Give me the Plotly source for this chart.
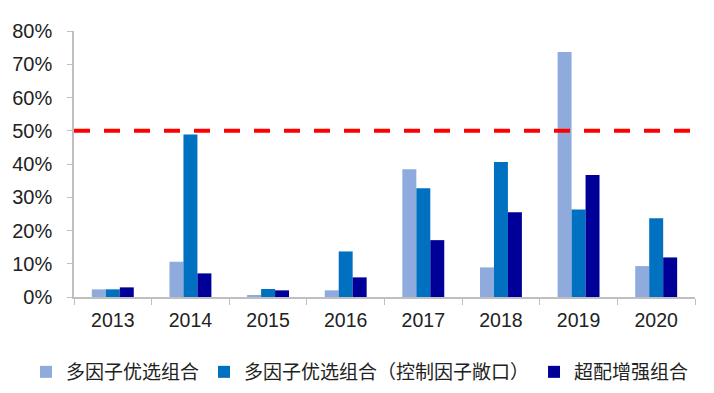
import plotly.graph_objects as go

years = ["2013", "2014", "2015", "2016", "2017", "2018", "2019", "2020"]
s1_name = "多因子优选组合"
s2_name = "多因子优选组合（控制因子敞口）"
s3_name = "超配增强组合"
s1 = [0.023, 0.106, 0.006, 0.020, 0.384, 0.089, 0.737, 0.093]
s2 = [0.023, 0.489, 0.024, 0.137, 0.327, 0.406, 0.263, 0.237]
s3 = [0.029, 0.071, 0.020, 0.059, 0.171, 0.255, 0.367, 0.119]
threshold = 0.5
y_ticks = [0, 0.1, 0.2, 0.3, 0.4, 0.5, 0.6, 0.7, 0.8]

W, H = 706, 385  # page body has an 8px margin
L, R, T, B = 66, 19, 23, 96
PW, PH = W - L - R, H - T - B

fig = go.Figure()
for name, vals, col in [(s1_name, s1, "#8FABDD"), (s2_name, s2, "#0070C0"), (s3_name, s3, "#000099")]:
    fig.add_trace(go.Bar(x=years, y=vals, name=name, marker=dict(color=col, line=dict(width=0))))

fig.add_shape(type="line", xref="paper", x0=0, x1=1, yref="y", y0=threshold, y1=threshold,
              line=dict(color="#FF0000", width=4, dash="16px,14px"))

fig.update_layout(
    width=W, height=H,
    margin=dict(l=L, r=R, t=T, b=B, autoexpand=False),
    paper_bgcolor="white", plot_bgcolor="white",
    barmode="group", bargap=0.46, bargroupgap=0,
    font=dict(family="Liberation Sans, Arial, sans-serif", color="#222222"),
    showlegend=True,
    legend=dict(orientation="h", xref="paper", yref="paper",
                x=(18 - L) / PW, xanchor="left", y=-(364 - (T + PH)) / PH, yanchor="middle",
                font=dict(family="Noto Sans CJK SC", size=19, color="#222222"),
                itemwidth=30, tracegroupgap=0),
    xaxis=dict(showline=True, linecolor="#BFBFBF", linewidth=1.5, ticks="outside",
               tickson="boundaries", ticklen=6, tickcolor="#BFBFBF", automargin=False,
               ticklabelstandoff=5,
               tickfont=dict(size=19.5, color="#222222"), showgrid=False),
    yaxis=dict(range=[0, 0.8], tickvals=y_ticks, tickformat=".0%", showline=True,
               linecolor="#BFBFBF", linewidth=1.5, ticks="outside", ticklen=5,
               tickcolor="#BFBFBF", showgrid=False, zeroline=False, automargin=False,
               ticklabelstandoff=11,
               tickfont=dict(size=20, color="#222222")),
)

fig.write_html("out.html")
